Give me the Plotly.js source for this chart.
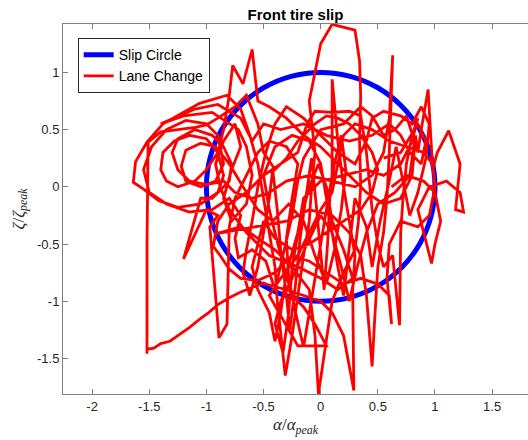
<!DOCTYPE html>
<html>
<head>
<meta charset="utf-8">
<script src="https://cdn.plot.ly/plotly-3.0.1.min.js"></script>
<style>html,body{margin:0;padding:0;background:#fff;}#chart{width:528px;height:440px;}</style>
</head>
<body>
<div id="chart"></div>
<script>
// Slip circle (unit circle, sampled every 15 degrees)
var circleX = [1, 0.966, 0.866, 0.707, 0.5, 0.259, 0, -0.259, -0.5, -0.707, -0.866, -0.966, -1, -0.966, -0.866, -0.707, -0.5, -0.259, 0, 0.259, 0.5, 0.707, 0.866, 0.966, 1];
var circleY = [0, 0.259, 0.5, 0.707, 0.866, 0.966, 1, 0.966, 0.866, 0.707, 0.5, 0.259, 0, -0.259, -0.5, -0.707, -0.866, -0.966, -1, -0.966, -0.866, -0.707, -0.5, -0.259, 0];

// Lane change trajectory
var laneX = [
 0.62,0.75,0.90,1.00,1.05,1.00,0.97,0.90,0.85,0.95,
 1.10,1.22,1.25,1.18,1.22,1.12,1.02,0.98,0.94,0.88,
 0.85,0.83,0.80,0.70,0.55,0.40,0.30,0.15,0.00,-0.15,
 -0.30,-0.45,-0.55,-0.60,-0.68,-0.77,-0.80,-0.85,-0.90,-1.00,
 -1.10,-1.25,-1.35,-1.40,-1.38,-1.28,-1.15,-1.00,-0.90,-0.85,
 -0.90,-1.05,-1.25,-1.42,-1.55,-1.64,-1.62,-1.52,-1.38,-1.06,
 -0.82,-0.70,-0.62,-0.55,-0.50,-0.45,-0.40,-0.38,-0.36,-0.31,
 -0.25,-0.20,-0.15,-0.10,-0.08,-0.05,-0.08,-0.10,0.00,0.10,
 0.30,0.34,0.35,0.34,0.35,0.33,0.30,0.20,0.10,-0.02,
 -0.05,-0.10,-0.25,-0.40,-0.55,-0.70,-0.91,-0.30,-0.10,0.10,
 0.25,0.35,0.40,0.45,0.47,0.50,0.55,0.58,0.60,0.63,
 0.60,0.55,0.45,0.30,0.10,-0.10,-0.30,-0.45,-0.60,-0.75,
 -0.85,-1.00,-1.15,-1.25,-1.30,-1.25,-1.10,-0.95,-0.85,-0.78,
 -0.80,-0.95,-1.05,-1.20,-1.00,-0.90,-0.97,-0.89,-0.82,-0.81,
 -0.80,-0.75,-0.65,-0.55,-0.45,-0.30,-0.20,-0.25,-0.30,-0.28,
 -0.22,-0.15,-0.10,-0.05,0.00,0.05,0.10,0.10,0.10,0.15,
 0.20,0.25,0.30,0.28,0.29,0.20,0.10,0.00,-0.15,-0.30,
 -0.45,-0.50,-0.60,-0.70,-0.80,-0.90,-0.98,-1.05,-1.15,-1.25,
 -1.32,-1.40,-1.46,-1.52,-1.52,-1.52,-1.51,-1.40,-1.25,-1.10,
 -1.00,-0.90,-0.75,-0.65,-0.55,-0.50,-0.40,-0.30,-0.20,-0.05,
 0.05,0.15,0.25,0.35,0.45,0.50,0.45,0.35,0.20,0.05,
 -0.10,-0.25,-0.40,-0.50,-0.55,-0.60,-0.55,-0.45,-0.40,-0.35,
 -0.30,-0.20,-0.15,0.00,0.20,0.40,0.55,0.70,0.80,0.85,
 0.80,0.75,0.72,0.70,0.69,0.63,0.55,0.50,0.45,0.40,
 0.35,0.25,0.10,-0.05,-0.12,-0.20,-0.35,-0.50,-0.65,-0.80,
 -0.90,-0.94,-0.88,-0.80,-0.70,-0.55,-0.40,-0.25,-0.10,0.05,
 0.20,0.35,0.50,0.60,0.62,0.58,0.60,0.70,0.85,0.95,
 1.00,0.98,0.90,0.75,0.60,0.45,0.30,0.20,0.15,0.10,
 0.00,-0.10,-0.20,-0.35,-0.45,-0.20,0.05,-0.05,-0.15,-0.25,
 -0.35,-0.45,-0.50,-0.40,-0.25,-0.10,0.00,0.05,0.10,0.15,
 0.20,0.25,0.30,0.40,0.45,0.52,0.60,0.66,0.72,0.78,
 0.85,0.92,0.95,0.88,0.80,0.70,0.55,0.45,0.40,0.30,
 0.15,0.00,-0.15,-0.30,-0.40,-0.48,-0.55,-0.60,-0.65,-0.68,
 -0.62,-0.55,-0.50,-0.45,-0.42,-0.38,-0.35,-0.30,-0.27,-0.22,
 -0.18,-0.12,-0.08,-0.04,0.00,0.03,0.06,0.08,0.12,0.18,
 0.22,0.18,0.12,0.05,-0.05,-0.15,-0.28,-0.42,-0.55,-0.68,
 -0.80,-0.92,-1.05,-1.18,-1.22,-1.18,-1.05,-0.92,-0.85,-0.90,
 -1.00,-1.18,-1.35,-1.48,-1.55,-1.50,-1.35,-1.15,-0.95,-0.80,
 -0.70,-0.75,-0.72,-0.60,-0.48,-0.40,-0.33,-0.25,-0.20,-0.15,
 0.00,0.20,0.35,0.45,0.55,0.65,0.75,0.82,0.78,0.65,
 0.50,0.40,0.32,0.25,0.18,0.10,0.00,-0.12,-0.25,-0.35,
 -0.40,-0.33,-0.28,-0.25,-0.18,-0.10,-0.02,0.05,0.10,0.20,
 0.28,0.15,0.00,-0.20,-0.45,-0.65,-0.80,-0.88,-0.92,-0.85,
 -0.75,-0.70,-0.78,-0.85,-0.78,-0.65,-0.60,-0.65,-0.72,-0.95,
 -1.20,-1.40,-1.10,-0.90,-0.70,-0.60,-0.50,-0.35,-0.15,0.05,
 0.25,0.45,0.60,0.70,0.78,0.88,0.92,0.85,0.70,0.55
];
var laneY = [
 0.00,0.10,0.05,-0.05,-0.30,-0.50,-0.67,-0.40,-0.20,0.00,
 0.05,-0.05,-0.22,-0.20,0.20,0.49,0.30,0.15,0.85,0.50,
 0.30,0.45,0.10,-0.10,-0.15,-0.05,0.05,0.20,0.35,0.45,
 0.60,0.70,0.75,1.20,0.90,1.06,0.80,0.50,0.30,0.15,
 0.05,0.00,0.05,0.15,0.30,0.40,0.45,0.42,0.30,0.10,
 -0.05,-0.15,-0.18,-0.12,-0.02,0.04,0.22,0.39,0.55,0.73,
 0.80,0.68,0.45,0.20,-0.10,-0.40,-0.70,-1.00,-1.20,-1.65,
 -1.30,-0.95,-0.60,-0.30,0.00,0.30,0.55,0.75,1.25,1.42,
 1.37,1.10,0.80,0.40,0.00,-0.30,-0.55,-0.75,-1.00,-1.81,
 -1.30,-0.90,-0.70,-0.55,-0.45,-0.35,-0.41,-0.30,-0.20,-0.25,
 -0.40,-0.60,-0.95,-1.57,-1.20,-0.70,-0.40,-0.10,0.30,1.15,
 0.60,0.30,0.10,0.00,0.05,0.10,0.05,-0.05,-0.10,-0.05,
 0.05,0.02,0.05,0.15,0.30,0.42,0.50,0.45,0.35,0.20,
 0.05,-0.10,-0.10,-0.63,-0.20,-0.25,-0.35,-1.32,-1.20,-0.80,
 -0.35,-0.10,0.10,0.30,0.40,0.35,0.20,-0.10,-0.45,-0.80,
 -1.10,-1.40,-1.10,-0.80,-0.50,-0.20,0.10,0.50,0.94,0.40,
 0.00,-0.30,-0.60,-0.90,-1.78,-1.30,-1.10,-1.00,-0.95,-0.90,
 -0.86,-0.84,-0.88,-0.92,-0.97,-1.03,-1.10,-1.15,-1.23,-1.30,
 -1.35,-1.37,-1.41,-1.42,-1.46,-0.50,0.39,0.48,0.50,0.52,
 0.54,0.60,0.70,0.80,0.55,0.30,0.15,0.25,0.40,0.55,
 0.62,0.60,0.55,0.45,0.30,0.15,-0.05,-0.20,-0.30,-0.40,
 -0.50,-0.55,-0.45,-0.30,-0.50,-0.70,-0.90,-1.10,-1.35,-1.10,
 -0.75,-0.40,-0.10,0.05,0.10,0.15,0.10,0.20,0.40,0.60,
 0.45,0.20,-0.10,-0.40,-1.21,-0.60,-0.70,-0.50,-0.20,0.30,
 0.62,0.66,0.65,0.66,0.55,0.30,0.20,0.10,-0.05,-0.15,
 -0.30,-0.52,-0.60,-0.72,-0.80,-0.82,-0.75,-0.60,-0.65,-0.75,
 -0.85,-0.80,-0.85,-0.95,-1.20,-0.80,-0.50,-0.30,-0.35,-0.25,
 0.00,0.20,0.30,0.35,0.40,0.50,0.55,0.45,0.20,-0.05,
 -0.20,-0.40,-0.60,-0.80,-0.95,-1.39,-1.39,-1.20,-1.05,-0.95,
 -0.60,-0.20,0.10,0.35,0.45,0.40,0.20,-0.10,-0.40,-0.70,
 -0.95,-0.50,-0.10,-0.35,-0.70,-0.30,0.05,0.35,0.05,-0.25,
 -0.05,0.25,0.55,0.70,0.55,0.62,0.66,0.60,0.40,0.20,
 0.30,0.45,0.60,0.70,0.55,0.30,0.00,-0.30,-0.55,-0.75,
 -0.95,-0.70,-0.40,-0.10,0.15,-0.20,-0.55,-0.95,-1.25,-0.85,
 -0.45,-0.05,0.25,-0.15,-0.55,-0.90,-0.50,-0.10,0.20,0.45,
 0.15,-0.20,-0.55,-0.85,-0.60,-0.30,-0.15,-0.30,-0.20,0.00,
 0.20,0.35,0.38,0.32,0.18,0.05,0.00,0.05,0.20,0.45,
 0.55,0.58,0.50,0.35,0.15,-0.05,-0.15,-0.22,-0.20,-0.10,
 -0.25,-0.45,-0.62,-0.55,-0.65,-0.90,-0.60,-0.25,0.05,0.25,
 0.50,0.55,0.70,0.62,0.45,0.50,0.62,0.40,0.10,-0.05,
 -0.15,-0.40,-0.70,-1.00,-0.70,-0.40,-0.25,-0.50,-0.80,-1.00,
 -1.20,-1.45,-1.10,-0.70,-0.30,0.00,0.20,0.00,-0.30,-0.55,
 -0.80,-0.90,-0.80,-0.70,-0.60,-0.40,-0.20,0.00,0.20,0.40,
 0.55,0.35,0.15,-0.10,-0.30,-0.15,0.10,0.35,0.50,0.65,
 0.62,0.55,0.68,0.72,0.60,0.40,0.55,0.50,0.55,0.45,
 0.40,0.45,0.55,0.45,0.30,0.20,0.40,0.55,0.30,0.25
];

var xTicks = [-2, -1.5, -1, -0.5, 0, 0.5, 1, 1.5];
var xTickText = ['-2', '-1.5', '-1', '-0.5', '0', '0.5', '1', '1.5'];
var yTicks = [-1.5, -1, -0.5, 0, 0.5, 1];
var yTickText = ['-1.5', '-1', '-0.5', '0', '0.5', '1'];

var traces = [
  {x: circleX, y: circleY, type: 'scatter', mode: 'lines', name: 'Slip Circle',
   line: {color: '#0000ff', width: 5, shape: 'spline'}},
  {x: laneX, y: laneY, type: 'scatter', mode: 'lines', name: 'Lane Change',
   line: {color: '#ff0000', width: 2.8}}
];

var axisCommon = {
  showgrid: false, zeroline: false, showline: true, linecolor: '#808080', linewidth: 1,
  ticks: 'inside', ticklen: 5, tickcolor: '#808080', tickwidth: 1,
  tickfont: {family: 'Liberation Sans, Arial, sans-serif', size: 13, color: '#262626'}
};

var layout = {
  width: 528, height: 440,
  margin: {l: 63, r: 0, t: 24, b: 46},
  paper_bgcolor: '#ffffff', plot_bgcolor: '#ffffff',
  showlegend: true,
  title: {text: '<b>Front tire slip</b>', x: 0.5, xref: 'paper', y: 0.966, yref: 'container', yanchor: 'middle',
          font: {family: 'Liberation Sans, Arial, sans-serif', size: 15, color: '#000000'}},
  xaxis: Object.assign({}, axisCommon, {
    range: [-2.255, 1.814], tickvals: xTicks, ticktext: xTickText, mirror: 'ticks',
    title: {text: '<i>α</i>/<i>α</i><sub><i>peak</i></sub>', standoff: 5,
            font: {family: 'Liberation Serif, serif', size: 17, color: '#262626'}}
  }),
  yaxis: Object.assign({}, axisCommon, {
    range: [-1.811, 1.423], tickvals: yTicks, ticktext: yTickText,
    title: {text: '<i>ζ</i>/<i>ζ</i><sub><i>peak</i></sub>', standoff: 8,
            font: {family: 'Liberation Serif, serif', size: 17, color: '#262626'}}
  }),
  legend: {x: 0.0316, y: 0.962, xanchor: 'left', yanchor: 'top', bgcolor: '#ffffff',
           bordercolor: '#262626', borderwidth: 1, itemwidth: 30,
           font: {family: 'Liberation Sans, Arial, sans-serif', size: 14, color: '#000000'}},
  hovermode: false
};

Plotly.newPlot('chart', traces, layout, {displayModeBar: false, staticPlot: true});
</script>
</body>
</html>
